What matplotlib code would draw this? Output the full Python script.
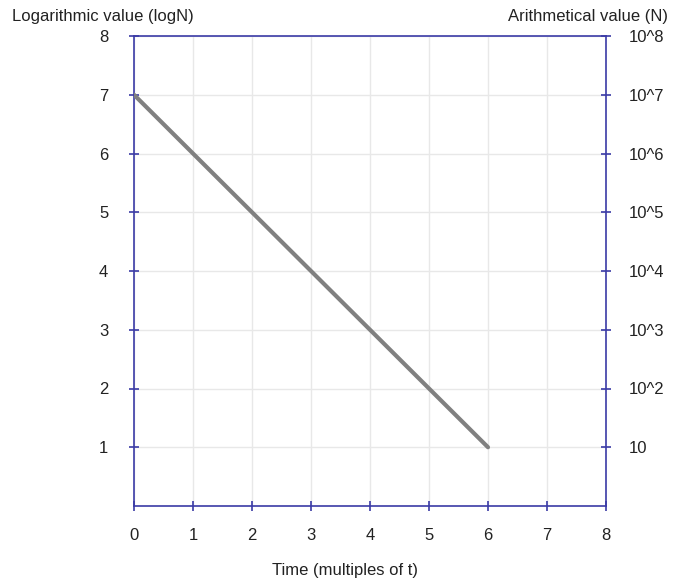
import numpy as np
import matplotlib.pyplot as plt

plt.rcParams['font.family'] = ['Liberation Sans', 'DejaVu Sans']

# data
time = [0, 6]
log_n = [7, 1]
x_ticks = [0, 1, 2, 3, 4, 5, 6, 7, 8]
y_ticks = [1, 2, 3, 4, 5, 6, 7, 8]
right_labels = ['10', '10^2', '10^3', '10^4', '10^5', '10^6', '10^7', '10^8']

axis_col = '#3b3ba6'

fig = plt.figure(figsize=(6.74, 5.83), dpi=100)
ax = fig.add_axes([134/674, 1-506/583, (606-134)/674, (506-36)/583])

ax.plot(time, log_n, color='#808080', lw=3, solid_capstyle='round', zorder=3)

ax.set_xlim(0, 8)
ax.set_ylim(0, 8)
ax.set_xticks(x_ticks)
ax.set_yticks(y_ticks)
ax.grid(True, color='#e8e8e8', lw=1)
ax.set_axisbelow(True)

for s in ax.spines.values():
    s.set_color(axis_col)
    s.set_linewidth(1.2)

ax.tick_params(axis='both', direction='inout', length=7, width=1.2, color=axis_col,
               labelsize=12, labelcolor='#222222')
ax.tick_params(axis='y', pad=15)
ax.tick_params(axis='x', pad=12)

ax2 = ax.twinx()
ax2.set_ylim(0, 8)
ax2.set_yticks(y_ticks)
ax2.set_yticklabels(right_labels)
ax2.tick_params(axis='y', direction='inout', length=7, width=1.2, color=axis_col,
                labelsize=12, labelcolor='#222222', pad=13)
for s in ax2.spines.values():
    s.set_visible(False)

fig.text(103/674, 1-17/583, 'Logarithmic value (logN)', ha='center', va='center',
         fontsize=12, color='#222222')
fig.text(668/674, 1-17/583, 'Arithmetical value (N)', ha='right', va='center',
         fontsize=12, color='#222222')
fig.text(345/674, 1-571/583, 'Time (multiples of t)', ha='center', va='center',
         fontsize=12, color='#222222')

fig.savefig('out.png', dpi=100)
